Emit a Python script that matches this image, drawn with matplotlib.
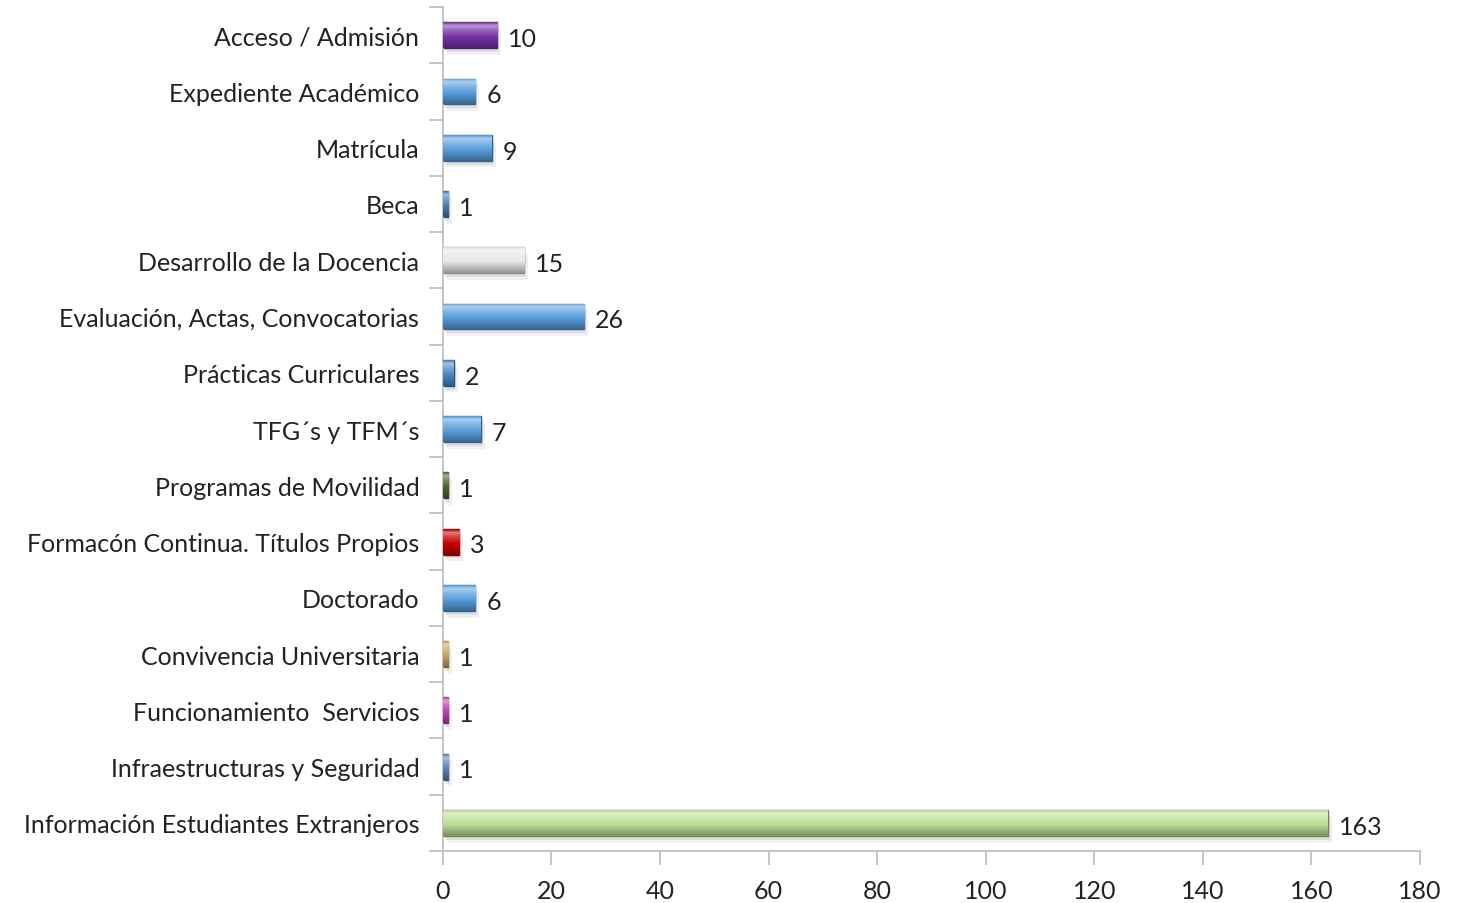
import numpy as np
import matplotlib.pyplot as plt
import matplotlib.colors as mcolors

plt.rcParams['font.family'] = ['Lato', 'DejaVu Sans']

categorias = ['Acceso / Admisión', 'Expediente Académico', 'Matrícula', 'Beca',
              'Desarrollo de la Docencia', 'Evaluación, Actas, Convocatorias',
              'Prácticas Curriculares', 'TFG´s y TFM´s', 'Programas de Movilidad',
              'Formacón Continua. Títulos Propios', 'Doctorado',
              'Convivencia Universitaria', 'Funcionamiento  Servicios',
              'Infraestructuras y Seguridad', 'Información Estudiantes Extranjeros']
valores = [10, 6, 9, 1, 15, 26, 2, 7, 1, 3, 6, 1, 1, 1, 163]
colores = ['#7a35a8', '#5aa0e0', '#5aa0e0', '#4a7fb5', '#e8e8e8', '#5aa0e0',
           '#4a88c8', '#5aa0e0', '#4a6a30', '#c80000', '#5aa0e0', '#c8a860',
           '#c040b0', '#5b86b5', '#bce096']
ticks_x = [0, 20, 40, 60, 80, 100, 120, 140, 160, 180]


def mezcla(c, f):
    # f > 0 aclara, f < 0 oscurece
    rgb = np.array(mcolors.to_rgb(c))
    if f >= 0:
        return rgb + (1 - rgb) * f
    return rgb * (1 + f)


fig = plt.figure(figsize=(14.57, 9.04), dpi=100)
ax = fig.add_axes([0.304, 0.0575, 0.6706, 0.9336])

y = np.arange(len(categorias))
h = 0.46

# sombra
ax.barh(y + 0.12, valores, height=h, left=0.7, color='#000000', alpha=0.06, zorder=1)
ax.barh(y + 0.07, valores, height=h, left=0.35, color='#000000', alpha=0.08, zorder=1)

barras = ax.barh(y, valores, height=h, color=colores,
                 edgecolor=[mezcla(c, -0.4) for c in colores], linewidth=1.0, zorder=2)

# relleno con degradado vertical
perfil_t = [0.0, 0.12, 0.3, 0.55, 0.8, 1.0]
perfil_f = [-0.1, 0.5, 0.25, 0.0, -0.2, -0.35]
tt = np.linspace(0, 1, 40)
for b, c, v, yi in zip(barras, colores, valores, y):
    ff = np.interp(tt, perfil_t, perfil_f)
    img = np.array([mezcla(c, f) for f in ff]).reshape(-1, 1, 3)
    im = ax.imshow(img, extent=(0, v, yi + h / 2, yi - h / 2), origin='upper',
                   aspect='auto', interpolation='bicubic', zorder=3)
    im.set_clip_path(b)

for yi, v in zip(y, valores):
    ax.text(v + 2.0, yi + 0.06, str(v), va='center', ha='left', fontsize=18, color='#222222')

ax.set_ylim(len(categorias) - 0.5, -0.5)
ax.set_xlim(0, 180)
ax.set_xticks(ticks_x)
ax.set_xticklabels([str(t) for t in ticks_x])
ax.set_yticks(y)
ax.set_yticklabels(categorias)
ax.set_yticks(np.arange(-0.5, len(categorias), 1), minor=True)

ax.tick_params(axis='y', which='major', length=0, pad=17, labelsize=18, labelcolor='#222222')
ax.tick_params(axis='y', which='minor', length=10, color='#bbbbbb', width=1.2)
ax.tick_params(axis='x', length=10, color='#bbbbbb', width=1.2, pad=10, labelsize=18,
               labelcolor='#222222')

for s in ['top', 'right']:
    ax.spines[s].set_visible(False)
for s in ['left', 'bottom']:
    ax.spines[s].set_color('#bbbbbb')
    ax.spines[s].set_linewidth(1.2)

fig.savefig('out.png', dpi=100)
